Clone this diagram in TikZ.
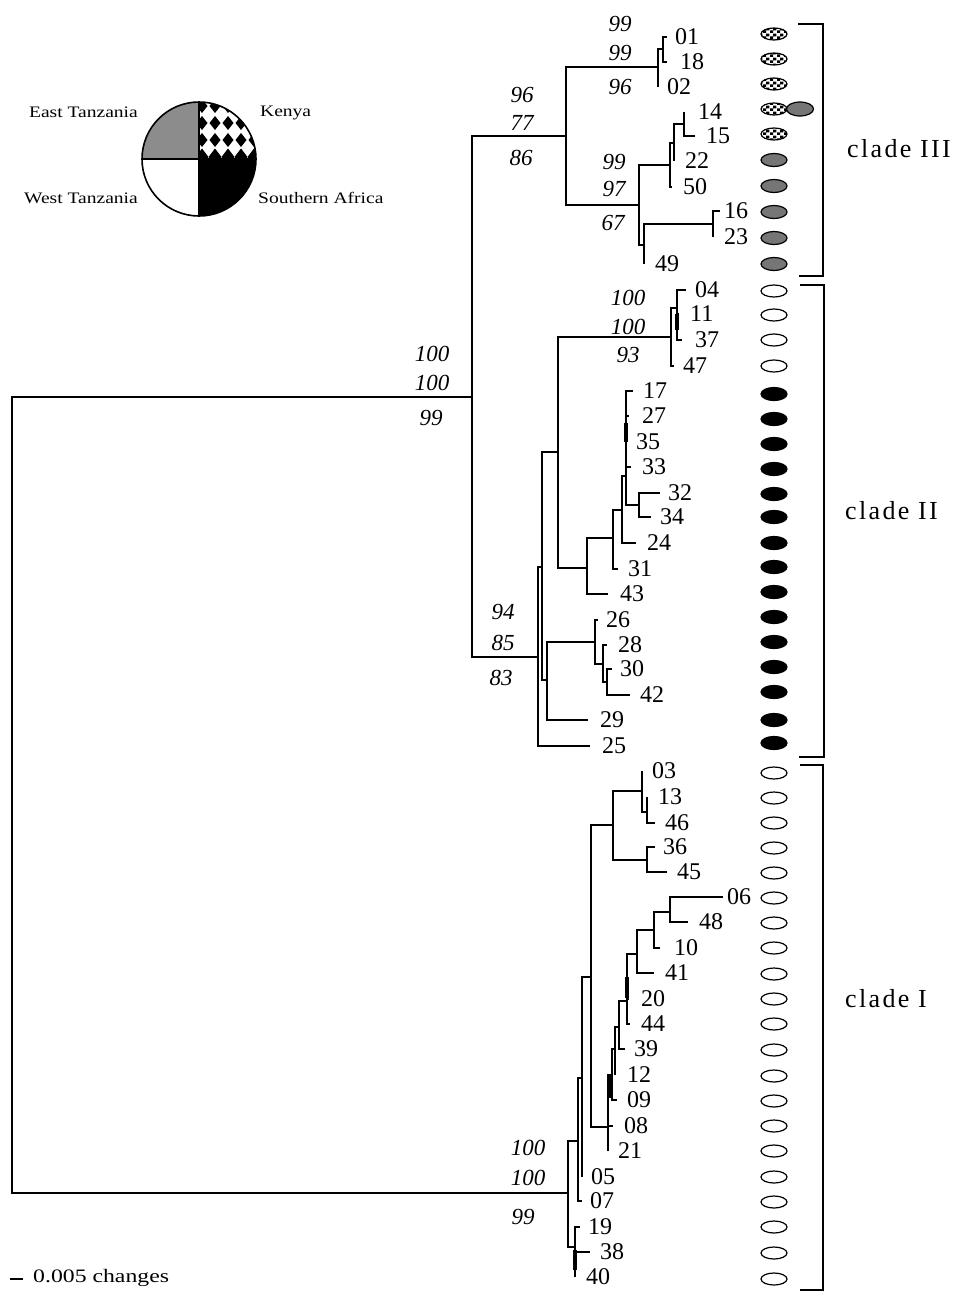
\documentclass[tikz,border=0pt]{standalone}
\usepackage{fontspec}
\setmainfont{Liberation Serif}
\usepackage{graphicx}
\usetikzlibrary{shapes.geometric,patterns}

\pgfdeclarepatternformonly{kchk}{\pgfpointorigin}{\pgfqpoint{7pt}{6pt}}{\pgfqpoint{7pt}{6pt}}{%
\pgfpathrectangle{\pgfpointorigin}{\pgfqpoint{3.5pt}{3pt}}%
\pgfpathrectangle{\pgfqpoint{3.5pt}{3pt}}{\pgfqpoint{3.5pt}{3pt}}%
\pgfusepath{fill}}

\definecolor{eastgray}{RGB}{140,140,140}
\definecolor{ovalgray}{RGB}{118,118,118}

\newcommand\tipsize{\fontsize{24}{24}\selectfont}
\newcommand\bootsize{\fontsize{23}{23}\selectfont\itshape}
\newcommand\cladesize{\fontsize{26}{26}\selectfont\addfontfeature{LetterSpace=9}}
\newcommand\legsize{\fontsize{16}{16}\selectfont}
\newcommand\legtxt[1]{\scalebox{1.22}[1]{#1}}
\newcommand\treebr[2]{\foreach \c in {#2}{\draw[branch] (#1) |- (\c);}}

\tikzset{
  branch/.style={line width=1.7pt},
  thickbr/.style={line width=3.2pt},
  tiplab/.style={anchor=west, inner sep=0pt, font=\tipsize},
  boot/.style={inner sep=0pt, font=\bootsize},
  ovalbase/.style={ellipse, draw, line width=1.2pt, minimum width=26pt, minimum height=12pt, inner sep=0pt},
  wov/.style={ovalbase, fill=white},
  bov/.style={ovalbase, fill=black, minimum height=13pt},
  gov/.style={ovalbase, fill=ovalgray, minimum height=13pt},
  kov/.style={ovalbase, preaction={fill=white}, pattern=kchk},
  bracket/.style={line width=1.5pt},
  cladelab/.style={anchor=west, inner sep=0pt, font=\cladesize},
  leglab/.style={inner sep=0pt, font=\legsize},
}

\begin{document}
\begin{tikzpicture}[x=1pt,y=-1pt]
\useasboundingbox (0,0) rectangle (959,1293);
\fill[white] (0,0) rectangle (959,1293);

% ---------- internal nodes ----------
\foreach \n/\x/\y in {root/12/794, A/472/397,
  P/566/136, Q/658/67, R/663/49, S/639/205, T/670/165, X/674/143, W/684/124, U/644/245, V/713/224,
  B/538/657, C/542/567, D/558/452, J/671/337, K/677/308, I/587/568, L/613/538, M/622/510, N/626/476, O/639/505,
  E/547/680, F/595/642, G/603/664, H/607/682,
  CI/568/1193, Y/578/1141, DD/582/1078, CC/591/977, AA/613/825, EE/642/791, GG/647/812, FF/647/860,
  BB/608/1127, NN/612/1075, MM/615/1049, LL/619/1027, KK/627/1001, JJ/637/954, II/654/930, HH/670/912,
  Z/575/1247}
  {\coordinate (\n) at (\x,\y);}

% ---------- tips and labels ----------
\foreach \n/\tx/\ty/\lx in {
  01/667/37/675, 18/667/62/680, 02/658/87/667, 14/684/112/698, 15/695/136/706,
  22/674/161/685, 50/672/187/683, 16/720/211/724, 23/713/237/724, 49/644/264/655,
  04/686/290/695, 11/679/314/690, 37/682/340/695, 47/674/366/683,
  17/633/391/643, 27/629/416/642, 35/626/442/636, 33/631/467/642, 32/660/493/668,
  34/651/517/660, 24/636/543/647, 31/618/569/628, 43/608/594/620, 26/598/620/606,
  28/607/645/618, 30/612/669/620, 42/630/695/640, 29/588/720/600, 25/590/746/602,
  03/642/771/652, 13/647/797/658, 46/655/823/665, 36/655/847/663, 45/667/872/677,
  06/723/897/727, 48/688/922/699, 10/660/948/674, 41/654/973/665, 20/629/999/641,
  44/630/1024/641, 39/625/1049/634, 12/615/1075/627, 09/617/1100/627, 08/613/1126/624,
  21/608/1151/618, 05/582/1177/591, 07/582/1201/590, 19/580/1227/588, 38/590/1252/600,
  40/575/1277/586}
  {\coordinate (t\n) at (\tx,\ty); \node[tiplab] (l\n) at (\lx,\ty) {\n};}

% ---------- branches ----------
\treebr{root}{A,CI}
\treebr{A}{P,B}
\treebr{P}{Q,S}
\treebr{Q}{R,t02}
\treebr{R}{t01,t18}
\treebr{S}{T,U}
\treebr{T}{X,t50}
\treebr{X}{W,t22}
\treebr{W}{t14,t15}
\treebr{U}{V,t49}
\treebr{V}{t16,t23}
\treebr{B}{C,t25}
\treebr{C}{D,E}
\treebr{D}{J,I}
\treebr{J}{K,t47}
\treebr{K}{t04,t11,t37}
\treebr{I}{L,t43}
\treebr{L}{M,t31}
\treebr{M}{N,t24}
\treebr{N}{t17,t27,t35,t33,O}
\treebr{O}{t32,t34}
\treebr{E}{F,t29}
\treebr{F}{t26,G}
\treebr{G}{t28,H}
\treebr{H}{t30,t42}
\treebr{CI}{Y,Z}
\treebr{Y}{DD,t07}
\treebr{DD}{CC,t05}
\treebr{CC}{AA,BB}
\treebr{AA}{EE,FF}
\treebr{EE}{t03,GG}
\treebr{GG}{t13,t46}
\treebr{FF}{t36,t45}
\treebr{BB}{NN,t08,t21}
\treebr{NN}{MM,t09}
\treebr{MM}{LL,t12}
\treebr{LL}{KK,t39}
\treebr{KK}{JJ,t20,t44}
\treebr{JJ}{II,t41}
\treebr{II}{HH,t10}
\treebr{HH}{t06,t48}
\treebr{Z}{t19,t38,t40}

% short thick stems
\draw[thickbr] (677,314) -- (677,330);
\draw[thickbr] (626,423) -- (626,442);
\draw[thickbr] (627,977) -- (627,998);
\draw[thickbr] (610,1075) -- (610,1098);
\draw[thickbr] (575,1250) -- (575,1270);

% ---------- bootstrap values ----------
\node[boot] (b1a) at (432,354) {100};
\node[boot] (b1b) at (432,383) {100};
\node[boot] (b1c) at (431,418) {99};
\node[boot] (b2a) at (522,95) {96};
\node[boot] (b2b) at (522,123) {77};
\node[boot] (b2c) at (521,158) {86};
\node[boot] (b3a) at (620,24) {99};
\node[boot] (b3b) at (620,53) {99};
\node[boot] (b3c) at (620,87) {96};
\node[boot] (b4a) at (614,162) {99};
\node[boot] (b4b) at (614,189) {97};
\node[boot] (b4c) at (613,223) {67};
\node[boot] (b5a) at (628,298) {100};
\node[boot] (b5b) at (628,327) {100};
\node[boot] (b5c) at (628,355) {93};
\node[boot] (b6a) at (503,612) {94};
\node[boot] (b6b) at (503,643) {85};
\node[boot] (b6c) at (501,678) {83};
\node[boot] (b7a) at (528,1148) {100};
\node[boot] (b7b) at (528,1178) {100};
\node[boot] (b7c) at (523,1217) {99};

% ---------- region ovals ----------
\foreach \n/\y in {01/34, 18/59, 02/84, 14/109, 15/134} {\node[kov] (o\n) at (774,\y) {};}
\foreach \n/\y in {22/160, 50/186, 16/212, 23/238, 49/264} {\node[gov] (o\n) at (774,\y) {};}
\node[gov, minimum width=27pt, minimum height=14pt] (o14b) at (800,109) {};
\foreach \n/\y in {04/291, 11/315, 37/340, 47/366} {\node[wov] (o\n) at (774,\y) {};}
\foreach \n/\y in {17/394, 27/419, 35/444, 33/469, 32/494, 34/517, 24/543, 31/567,
  43/592, 26/617, 28/642, 30/667, 42/692, 29/720, 25/743} {\node[bov] (o\n) at (774,\y) {};}
\foreach \n/\y in {03/773, 13/798, 46/823, 36/848, 45/873, 06/898, 48/923, 10/948,
  41/974, 20/999, 44/1024, 39/1050, 12/1076, 09/1101, 08/1126, 21/1151, 05/1177,
  07/1202, 19/1227, 38/1253, 40/1279} {\node[wov] (o\n) at (774,\y) {};}

% ---------- clade brackets ----------
\draw[bracket] (798,24) -| (823,276) -- (799,276);
\draw[bracket] (800,285) -| (824,757) -- (799,757);
\draw[bracket] (800,765) -| (823,1290) -- (800,1290);
\node[cladelab] (c3) at (847,149) {clade III};
\node[cladelab] (c2) at (845,511) {clade II};
\node[cladelab] (c1) at (845,999) {clade I};

% ---------- legend pie ----------
\begin{scope}[shift={(199,159)}, yscale=-1]
  \fill[eastgray] (0,0) -- (180:57) arc[start angle=180, end angle=90, radius=57] -- cycle;
  \fill[black] (0,0) -- (270:57) arc[start angle=270, end angle=360, radius=57] -- cycle;
  \begin{scope}
    \clip (0,0) -- (0:57) arc[start angle=0, end angle=90, radius=57] -- cycle;
    \foreach \cx in {3,16,29,42,55} {
      \foreach \cy in {53,36,19} {
        \fill[black] (\cx-5.5,\cy) -- (\cx,\cy+7) -- (\cx+5.5,\cy) -- (\cx,\cy-7) -- cycle;
      }
      \fill[black] (\cx-6.5,2) -- (\cx,10.5) -- (\cx+6.5,2) -- (\cx,-6.5) -- cycle;
    }
  \end{scope}
  \draw[line width=1.6pt] (0,0) circle[radius=57];
  \draw[line width=1.6pt] (-57,0) -- (57,0) (0,-57) -- (0,57);
\end{scope}
\node[leglab, anchor=east] (le) at (138,112) {\legtxt{East Tanzania}};
\node[leglab, anchor=west] (lk) at (260,113) {\legtxt{Kenya}};
\node[leglab, anchor=east] (lw) at (138,198) {\legtxt{West Tanzania}};
\node[leglab, anchor=west] (ls) at (258,198) {\legtxt{Southern Africa}};

% ---------- scale bar ----------
\coordinate (sb1) at (10,1279);
\coordinate (sb2) at (23,1279);
\draw[line width=1.2pt] (sb1) -- (sb2);
\node[anchor=west, inner sep=0pt, font=\fontsize{19}{19}\selectfont] (sbl) at (33,1278) {\scalebox{1.25}[1]{0.005 changes}};
\end{tikzpicture}
\end{document}
